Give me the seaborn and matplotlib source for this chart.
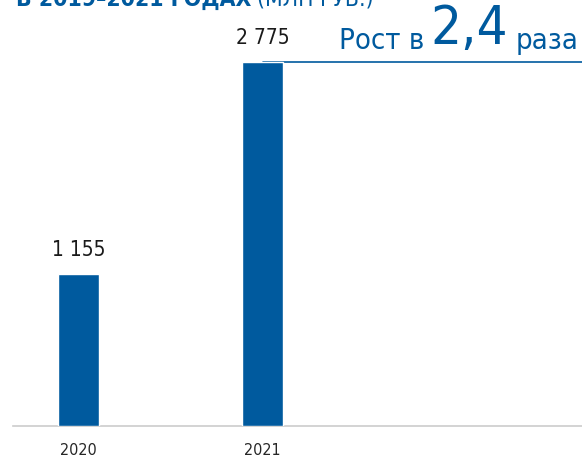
import matplotlib
matplotlib.use("Agg")
import matplotlib.pyplot as plt
import seaborn as sns
import pandas as pd

# данные
years = ["2020", "2021"]
values = [1155, 2775]
value_labels = ["1 155", "2 775"]
growth_text = "2,4"

blue = "#005A9E"

sns.set_style("white")
plt.rcParams["font.family"] = ["DejaVu Sans"]
plt.rcParams["font.stretch"] = "condensed"

df = pd.DataFrame({"year": years, "value": values})

fig = plt.figure(figsize=(5.82, 4.57), dpi=100)
ax = fig.add_axes([13 / 582, 31 / 457, 569 / 582, 396 / 457])

sns.barplot(data=df, x="year", y="value", color=blue, width=0.223,
            saturation=1, ax=ax, zorder=3)

ax.set_xlim(-0.356, 2.736)
ax.set_ylim(0, 3019)

# линия роста
ax.plot([1, 2.736], [values[1], values[1]], color=blue, lw=1.2, zorder=2)

for i, (v, lab) in enumerate(zip(values, value_labels)):
    ax.text(i, v + 110, lab, ha="center", va="bottom", fontsize=15,
            color="#1a1a1a", fontstretch="condensed")

# Рост в 2,4 раза
t3 = ax.text(2.715, values[1] + 100, "раза", ha="right", va="baseline",
             fontsize=21, color=blue, fontstretch="condensed")
t2 = ax.annotate(growth_text, xy=(0, 0), xycoords=t3, xytext=(-5, 0),
                 textcoords="offset points", ha="right", va="bottom",
                 fontsize=39, color=blue, fontstretch="condensed")
ax.annotate("Рост в", xy=(0, 0), xycoords=t2, xytext=(-5, 0),
            textcoords="offset points", ha="right", va="bottom",
            fontsize=21, color=blue, fontstretch="condensed")

# заголовок (обрезан сверху)
t_b = fig.text(16 / 582, (457 - 6) / 457, "В 2019–2021 ГОДАХ", ha="left",
               va="baseline", fontsize=16.5, fontweight="bold", color=blue,
               fontstretch="condensed")
ax.annotate("(МЛН РУБ.)", xy=(1, 0), xycoords=t_b, xytext=(4, 0),
            textcoords="offset points", ha="left", va="bottom",
            fontsize=16.5, color=blue, annotation_clip=False,
            fontstretch="condensed")

ax.set_xlabel("")
ax.set_ylabel("")
ax.set_yticks([])
ax.tick_params(axis="x", length=0, labelsize=11.5, pad=12)
for s in ["top", "left", "right"]:
    ax.spines[s].set_visible(False)
ax.spines["bottom"].set_color("#cccccc")
ax.spines["bottom"].set_linewidth(1.2)

fig.savefig("out.png", dpi=100)
